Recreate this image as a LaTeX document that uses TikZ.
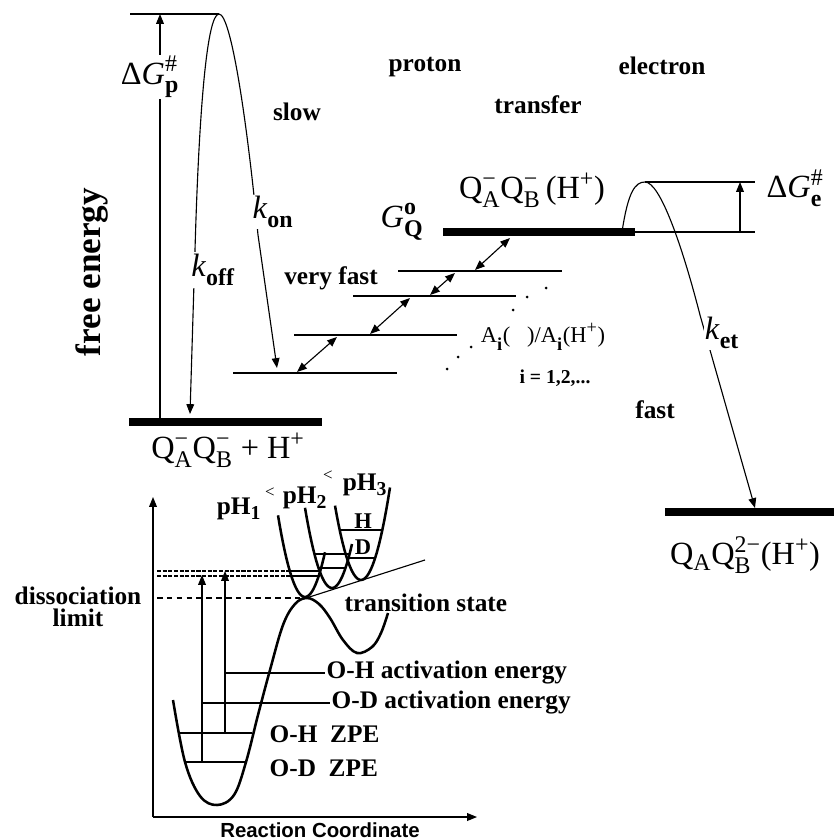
\documentclass[tikz,border=0pt]{standalone}
\usepackage{fontspec}
\setmainfont{Liberation Serif}
\setsansfont{Liberation Sans}
\usepackage{amsmath}
\usetikzlibrary{arrows.meta}
\DeclareMathSizes{23}{23}{17}{13}
\DeclareMathSizes{18}{18}{14}{11}
\DeclareMathSizes{16}{16}{13}{10}
\newcommand{\supsub}[2]{\ensuremath{^{\text{#1}}_{\text{#2}}}}

\begin{document}
\begin{tikzpicture}[x=0.025cm, y=-0.025cm, >={Triangle[length=7pt,width=5.5pt]}]
    % Styles
    \tikzset{
      txt/.style={font=\fontsize{18}{21}\selectfont\bfseries, inner sep=1pt},
      big/.style={font=\fontsize{23}{26}\selectfont, inner sep=1pt},
      lvl/.style={line width=0.8pt},
      bar/.style={line width=5.5pt},
      well/.style={line width=1.8pt},
      blank/.style={fill=white, inner sep=1pt}
    }
    \useasboundingbox (0,0) rectangle (834,840);

    % Axis label
    \node[txt, rotate=90, font=\fontsize{25}{28}\selectfont\bfseries] (fe) at (92,272) {free energy};

    % Proton transfer barrier (slow)
    \coordinate (pTop) at (219,14);
    \coordinate (koffEnd) at (190,414);
    \coordinate (konEnd) at (277,368);
    \draw[lvl, <->] (koffEnd) -- (195,250) .. controls (199,110) and (207,14) .. (pTop)
        .. controls (231,14) and (247,120) .. (258,235) -- (konEnd);
    \node[big, blank] (koff) at (213,270) {\textit{k}\supsub{}{\bfseries off}};
    \node[big, blank] (kon) at (273,212) {\textit{k}\supsub{}{\bfseries on}};

    % Delta G_p
    \coordinate (pBase) at (160,418);
    \coordinate (pMark) at (160,14);
    \draw[lvl] (130,14) -- (pTop);
    \draw[lvl, ->] (pBase) -- (pMark);
    \node[big, blank] (dGp) at (150,77) {Δ\textit{G}\supsub{\#}{\bfseries p}};

    % Headings
    \node[txt] (slow) at (297,112) {slow};
    \node[txt] (proton) at (425,67) {proton};
    \node[txt] (electron) at (662,66) {electron};
    \node[txt] (transfer) at (538,105) {transfer};

    % Bound state
    \draw[bar] (129,422) -- (322,422);
    \node[big] (q0) at (228,450) {Q\supsub{−}{A}Q\supsub{−}{B} + H\textsuperscript{+}};

    % Intermediate levels
    \draw[lvl] (233,373) -- (397,373);
    \draw[lvl] (294,335) -- (457,335);
    \draw[lvl] (353,296) -- (516,296);
    \draw[lvl] (398,271) -- (562,271);
    \draw[lvl, <->] (510,238) -- (475,270);
    \draw[lvl, <->] (455,273) -- (430,295);
    \draw[lvl, <->] (410,298) -- (370,334);
    \draw[lvl, <->] (337,337) -- (297,372);
    \node[txt] (vfast) at (331,278) {very fast};
    \foreach \p in {(546,288),(527,297),(513,310),(471,347),(458,357),(447,369)}
        \fill \p circle (1.5);
    \node[font=\fontsize{16}{18}\selectfont, inner sep=1pt] (ai) at (543,337)
        {A\supsub{}{\bfseries i}(\ \ \ )/A\supsub{}{\bfseries i}(H\textsuperscript{+})};
    \node[font=\fontsize{14}{16}\selectfont\bfseries] (ii) at (555,378) {i = 1,2,...};

    % Q state
    \draw[bar] (443,232) -- (635,232);
    \draw[lvl] (635,232) -- (755,232);
    \node[big] (gq) at (402,222) {\textit{G}\supsub{\bfseries o}{\bfseries Q}};
    \node[big] (qh) at (532,190) {Q\supsub{−}{A}Q\supsub{−}{B}\,(H\textsuperscript{+})};

    % Electron transfer (fast)
    \coordinate (eTop) at (645,182);
    \coordinate (ketEnd) at (755,508);
    \draw[lvl, ->] (622,232) .. controls (628,192) and (635,182) .. (eTop)
        .. controls (660,182) and (682,245) .. (700,315) -- (ketEnd);
    \draw[lvl] (eTop) -- (755,182);
    \draw[lvl, ->] (740,232) -- (740,182);
    \node[big] (dGe) at (795,188) {Δ\textit{G}\supsub{\#}{\bfseries e}};
    \node[big, blank] (ket) at (722,333) {\textit{k}\supsub{}{\bfseries et}};
    \node[txt] (fast) at (655,410) {fast};
    \draw[bar] (665,512) -- (834,512);
    \node[big] (q2) at (745,555) {Q\textsubscript{A}Q\supsub{2−}{B}(H\textsuperscript{+})};

    % Inset: potential curves
    \coordinate (org) at (153,817);
    \draw[lvl, ->] (org) -- (153,497);
    \draw[lvl, ->] (org) -- (477,817);
    \node[font=\fontsize{14.5}{16}\selectfont\sffamily\bfseries] (rc) at (320,830) {Reaction Coordinate};
    \node[font=\fontsize{18}{16}\selectfont\bfseries, align=center] (dl) at (78,607) {dissociation\\limit};

    \draw[well] plot[smooth, tension=0.6] coordinates {(173,700) (185,762) (200,796) (217,805)
        (234,795) (246,762) (258,715) (270,670) (283,625) (295,604) (307,598) (319,604)
        (330,618) (343,640) (357,653) (372,647) (381,633) (388,613)};
    \draw[well] plot[domain=278:325, samples=30] (\x, {597-0.112*(\x-305)*(\x-305)});
    \draw[well] plot[domain=305:352, samples=30] (\x, {588-0.11*(\x-332)*(\x-332)});
    \draw[well] plot[domain=335:390, samples=30] (\x, {580-0.11*(\x-361)*(\x-361)});
    \draw[lvl] (300,600) -- (425,560);

    % Vibrational levels
    \draw[lvl] (290,571) -- (320,571);
    \draw[lvl] (291,576) -- (319,576);
    \draw[lvl] (314,554) -- (350,554);
    \draw[lvl] (318,568) -- (346,568);
    \draw[lvl] (340,530) -- (382,530);
    \draw[lvl] (347,558) -- (375,558);
    \draw[lvl, dash pattern=on 3pt off 1pt] (157,571) -- (290,571);
    \draw[lvl, dash pattern=on 3pt off 1pt] (157,576) -- (291,576);
    \draw[lvl, dash pattern=on 4pt off 3pt] (157,598) -- (300,598);
    \node[font=\fontsize{16}{18}\selectfont\bfseries] (hlab) at (363,521) {H};
    \node[font=\fontsize{16}{18}\selectfont\bfseries] (dlab) at (363,547) {D};

    % pH labels
    \node[txt] (ph1) at (239,509) {pH\textsubscript{1}};
    \node[font=\fontsize{12}{14}\selectfont] (lt1) at (270,493) {<};
    \node[txt] (ph2) at (305,498) {pH\textsubscript{2}};
    \node[font=\fontsize{12}{14}\selectfont] (lt2) at (328,476) {<};
    \node[txt] (ph3) at (365,485) {pH\textsubscript{3}};
    \node[txt, anchor=west] (ts) at (343,603) {transition state};

    % Zero point energies and activation arrows
    \draw[lvl] (180,733) -- (252,733);
    \draw[lvl] (186,762) -- (246,762);
    \draw[lvl, ->] (225,733) -- (225,571);
    \draw[lvl, ->] (202,762) -- (202,575);
    \node[txt, anchor=west] (ohact) at (325,673) {O-H activation energy};
    \node[txt, anchor=west] (odact) at (330,703) {O-D activation energy};
    \draw[lvl] (225,673) -- (ohact.west);
    \draw[lvl] (202,703) -- (odact.west);
    \node[txt, anchor=west] (ohz) at (268,734) {O-H\ \ ZPE};
    \node[txt, anchor=west] (odz) at (268,768) {O-D\ \ ZPE};
\end{tikzpicture}
\end{document}
